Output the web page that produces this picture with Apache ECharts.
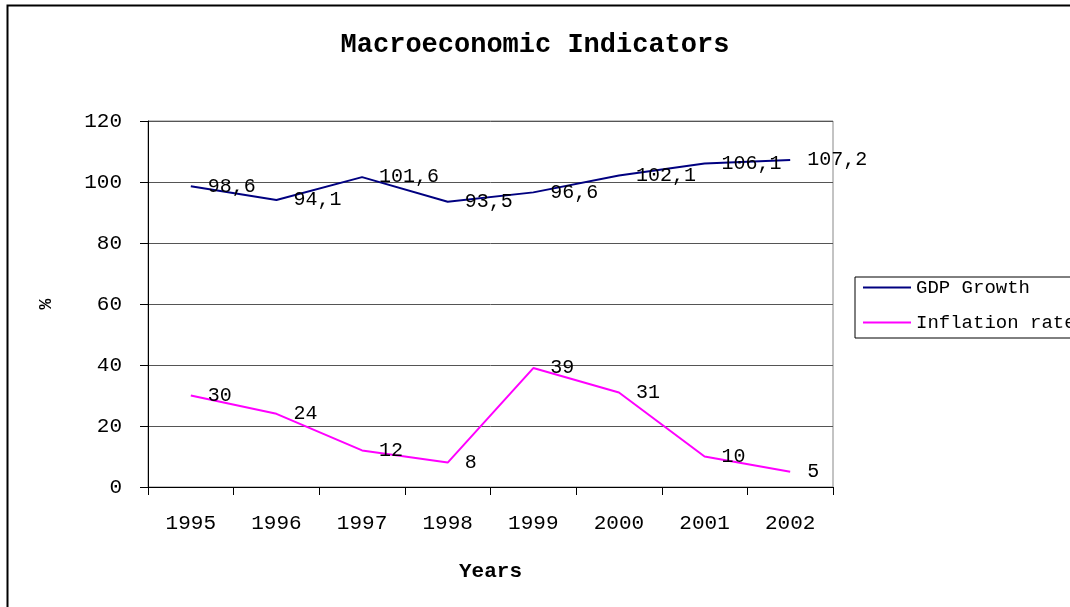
<!DOCTYPE html>
<html>
<head>
<meta charset="utf-8">
<script src="https://cdn.jsdelivr.net/npm/echarts@6/dist/echarts.min.js"></script>
<style>
  html, body { margin: 0; padding: 0; background: #fff; }
  #chart { width: 1070px; height: 607px; }
</style>
</head>
<body>
<div id="chart"></div>
<script>
// data
const years = ['1995', '1996', '1997', '1998', '1999', '2000', '2001', '2002'];
const gdpGrowth = [98.6, 94.1, 101.6, 93.5, 96.6, 102.1, 106.1, 107.2];
const inflationRate = [30, 24, 12, 8, 39, 31, 10, 5];

const gdpColor = '#000080';
const inflationColor = '#ff00ff';
const monoFont = '"Liberation Mono", "DejaVu Sans Mono", monospace';

// Excel style decimal comma
function commaLabel(p) {
    return String(p.value).replace('.', ',');
}

// shared look of the value labels next to each point
function pointLabel() {
    return {
        show: true,
        position: 'right',
        distance: 16,
        formatter: commaLabel,
        fontFamily: monoFont,
        fontSize: 20,
        color: '#000'
    };
}

let chart = echarts.init(document.getElementById('chart'), null, {renderer: 'canvas'});

let options = {
    animation: false,
    backgroundColor: '#fff',
    title: {
        text: 'Macroeconomic Indicators',
        left: 'center',
        top: 27,
        textStyle: {fontFamily: monoFont, fontSize: 27, fontWeight: 'bold', color: '#000'}
    },
    legend: {
        orient: 'vertical',
        left: 855,
        top: 277,
        padding: [1, 10, 6, 8],
        itemGap: 16,
        itemWidth: 48,
        itemHeight: 2,
        icon: 'rect',
        borderColor: '#000',
        borderWidth: 1,
        textStyle: {fontFamily: monoFont, fontSize: 19, color: '#000'},
        data: [
            {name: 'GDP Growth', itemStyle: {color: gdpColor, opacity: 1}},
            {name: 'Inflation rate', itemStyle: {color: inflationColor, opacity: 1}}
        ]
    },
    grid: {
        left: 148,
        right: 237,
        top: 121,
        bottom: 120,
        show: true,
        borderColor: '#888',
        borderWidth: 1
    },
    xAxis: {
        type: 'category',
        data: years,
        boundaryGap: true,
        name: 'Years',
        nameLocation: 'middle',
        nameGap: 74,
        nameTextStyle: {fontFamily: monoFont, fontSize: 21, fontWeight: 'bold', color: '#000'},
        axisLine: {lineStyle: {color: '#000', width: 1}},
        axisTick: {show: true, length: 8, lineStyle: {color: '#000'}},
        axisLabel: {fontFamily: monoFont, fontSize: 21, color: '#000', margin: 26}
    },
    yAxis: {
        type: 'value',
        min: 0,
        max: 120,
        interval: 20,
        name: '%',
        nameLocation: 'middle',
        nameGap: 93,
        nameRotate: 90,
        nameTextStyle: {fontFamily: monoFont, fontSize: 18, fontWeight: 'bold', color: '#000'},
        axisLine: {show: true, lineStyle: {color: '#000', width: 1}},
        axisTick: {show: true, length: 8, lineStyle: {color: '#000'}},
        axisLabel: {fontFamily: monoFont, fontSize: 21, color: '#000', margin: 26},
        splitLine: {show: true, lineStyle: {color: '#555', width: 1}}
    },
    series: [
        {
            name: 'GDP Growth',
            type: 'line',
            data: gdpGrowth,
            showSymbol: true,
            symbol: 'circle',
            symbolSize: 2,
            itemStyle: {color: 'rgba(0,0,0,0)', borderWidth: 0},
            lineStyle: {width: 2, color: gdpColor},
            label: pointLabel()
        },
        {
            name: 'Inflation rate',
            type: 'line',
            data: inflationRate,
            showSymbol: true,
            symbol: 'circle',
            symbolSize: 2,
            itemStyle: {color: 'rgba(0,0,0,0)', borderWidth: 0},
            lineStyle: {width: 2, color: inflationColor},
            label: pointLabel()
        }
    ],
    graphic: [
        {
            type: 'rect',
            left: 5,
            top: 3,
            shape: {width: 1200, height: 700},
            style: {fill: 'none', stroke: '#000', lineWidth: 2},
            silent: true
        }
    ]
};

chart.setOption(options);
</script>
</body>
</html>
